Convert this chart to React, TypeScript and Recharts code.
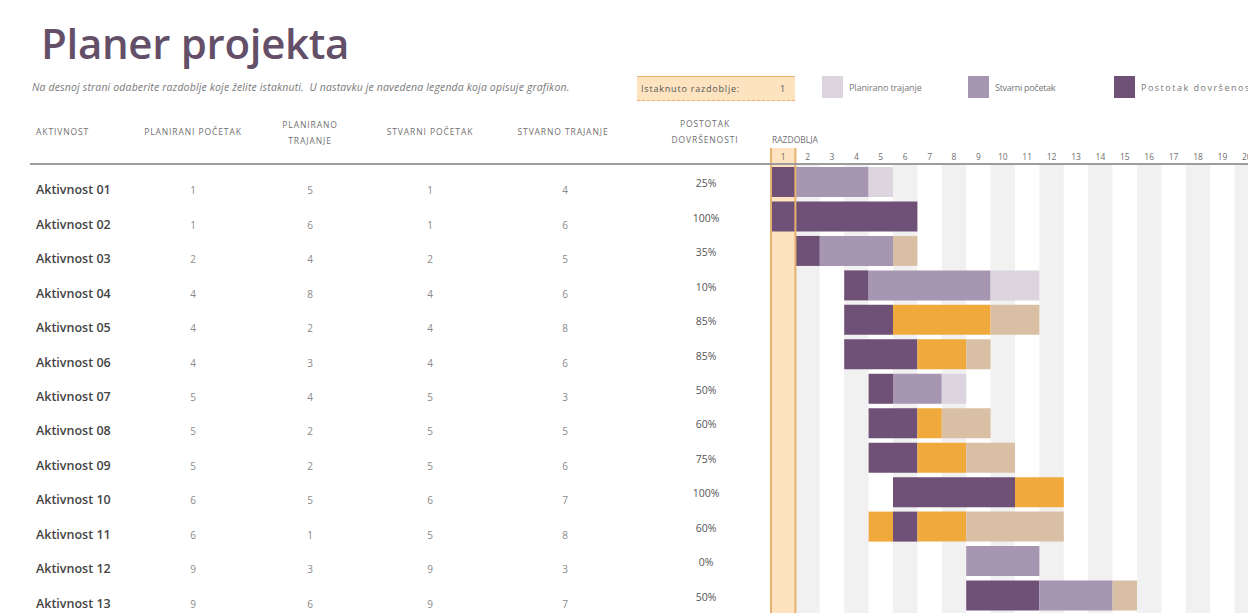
import React from "react"
import { BarChart, Bar, XAxis, YAxis, Cell, ReferenceArea, ReferenceLine } from "recharts"

// table columns
const activities = [
  "Aktivnost 01", "Aktivnost 02", "Aktivnost 03", "Aktivnost 04", "Aktivnost 05",
  "Aktivnost 06", "Aktivnost 07", "Aktivnost 08", "Aktivnost 09", "Aktivnost 10",
  "Aktivnost 11", "Aktivnost 12", "Aktivnost 13",
]
const plannedStart = [1, 1, 2, 4, 4, 4, 5, 5, 5, 6, 6, 9, 9]
const plannedDuration = [5, 6, 4, 8, 2, 3, 4, 2, 2, 5, 1, 3, 6]
const actualStart = [1, 1, 2, 4, 4, 4, 5, 5, 5, 6, 5, 9, 9]
const actualDuration = [4, 6, 5, 6, 8, 6, 3, 5, 6, 7, 8, 3, 7]
const percentComplete = [25, 100, 35, 10, 85, 85, 50, 60, 75, 100, 60, 0, 50]

// gantt, as drawn: first period of each bar and its coloured runs
// D = % complete, M = actual, L = planned, O = % complete beyond plan, T = actual beyond plan
type Kind = "D" | "M" | "L" | "O" | "T"
const ganttStart = [1, 1, 2, 4, 4, 4, 5, 5, 5, 6, 5, 9, 9]
const ganttRuns: [Kind, number][][] = [
  [["D", 1], ["M", 3], ["L", 1]],
  [["D", 6]],
  [["D", 1], ["M", 3], ["T", 1]],
  [["D", 1], ["M", 5], ["L", 2]],
  [["D", 2], ["O", 4], ["T", 2]],
  [["D", 3], ["O", 2], ["T", 1]],
  [["D", 1], ["M", 2], ["L", 1]],
  [["D", 2], ["O", 1], ["T", 2]],
  [["D", 2], ["O", 2], ["T", 2]],
  [["D", 5], ["O", 2]],
  [["O", 1], ["D", 1], ["O", 2], ["T", 4]],
  [["M", 3]],
  [["D", 3], ["M", 3], ["T", 1]],
]

const periods = [1, 2, 3, 4, 5, 6, 7, 8, 9, 10, 11, 12, 13, 14, 15, 16, 17, 18, 19, 20]
const highlightedPeriod = 1

const kindColor: Record<Kind, string> = {
  D: "#6f5076",
  M: "#a796b2",
  L: "#dcd5e0",
  O: "#f0aa3c",
  T: "#d9c0a5",
}
const HIGHLIGHT = "#fde3bf"
const HIGHLIGHT_EDGE = "#e6b273"
const FONT = "'Open Sans', sans-serif"

const MAX_RUNS = 4
const rows = activities.map((name, i) => {
  const row: any = { name, offset: ganttStart[i] - 1 }
  for (let k = 0; k < MAX_RUNS; k++) {
    const run = ganttRuns[i][k]
    row[`s${k}`] = run ? run[1] : 0
    row[`k${k}`] = run ? run[0] : "L"
  }
  return row
})

const COL_W = 24.4

function PeriodTick({ x, payload }: any) {
  const p = Math.round(payload.value + 0.5)
  return (
    <g>
      {p === highlightedPeriod && (
        <g>
          <rect x={x - COL_W / 2} y={148} width={COL_W} height={17} fill={HIGHLIGHT} />
          <line x1={x - COL_W / 2} x2={x - COL_W / 2} y1={148} y2={165} stroke={HIGHLIGHT_EDGE} strokeWidth={2} />
          <line x1={x + COL_W / 2} x2={x + COL_W / 2} y1={148} y2={165} stroke={HIGHLIGHT_EDGE} strokeWidth={2} />
        </g>
      )}
      <text x={x} y={160} textAnchor="middle" fontSize={8.5} fill="#6f6f6f" fontFamily={FONT}>
        {p}
      </text>
    </g>
  )
}

function RowTick({ y, payload }: any) {
  const i = activities.indexOf(payload.value)
  const num = { fontSize: 10, fill: "#8a8a8a", fontFamily: FONT, textAnchor: "middle" as const }
  return (
    <g>
      <text x={36} y={y + 12} fontSize={12.5} fontWeight={600} fill="#444" fontFamily={FONT}>
        {activities[i]}
      </text>
      <text x={193} y={y + 12} {...num}>{plannedStart[i]}</text>
      <text x={310} y={y + 12} {...num}>{plannedDuration[i]}</text>
      <text x={430} y={y + 12} {...num}>{actualStart[i]}</text>
      <text x={565} y={y + 12} {...num}>{actualDuration[i]}</text>
      <text x={706} y={y + 5} textAnchor="middle" fontSize={10.5} fill="#555" fontFamily={FONT}>
        {percentComplete[i]}%
      </text>
    </g>
  )
}

const headerStyle: React.CSSProperties = {
  position: "absolute",
  fontSize: 8.5,
  letterSpacing: 0.9,
  color: "#6f6f6f",
  textAlign: "center",
  lineHeight: "16px",
  transform: "translate(-50%, -50%)",
  whiteSpace: "nowrap",
}

const legend = [
  { label: "Planirano trajanje", color: kindColor.L, x: 822, spacing: -0.1 },
  { label: "Stvarni početak", color: kindColor.M, x: 968, spacing: -0.3 },
  { label: "Postotak dovršenosti", color: kindColor.D, x: 1114, spacing: 1.5 },
]

export default function App() {
  return (
    <div
      style={{
        position: "absolute",
        top: 0,
        left: 0,
        width: 1248,
        height: 616,
        overflow: "hidden",
        background: "#fff",
        fontFamily: FONT,
      }}
    >
      <div style={{ position: "absolute", left: 41, top: 14, fontSize: 42, fontWeight: 600, color: "#644f69", letterSpacing: -0.3 }}>
        Planer projekta
      </div>
      <div style={{ position: "absolute", left: 32, top: 80, fontSize: 10.5, fontStyle: "italic", color: "#7a7a7a", whiteSpace: "nowrap", letterSpacing: 0.15 }}>
        Na desnoj strani odaberite razdoblje koje želite istaknuti.&nbsp; U nastavku je navedena legenda koja opisuje grafikon.
      </div>

      <div
        style={{
          position: "absolute",
          left: 637,
          top: 76,
          width: 158,
          height: 25,
          background: HIGHLIGHT,
          borderTop: `1px solid ${HIGHLIGHT_EDGE}`,
          borderBottom: `1px dashed ${HIGHLIGHT_EDGE}`,
          fontSize: 9,
          letterSpacing: 0.8,
          color: "#555",
          display: "flex",
          alignItems: "center",
          justifyContent: "space-between",
          padding: "0 9px 0 4px",
          boxSizing: "border-box",
        }}
      >
        <span>Istaknuto razdoblje:</span>
        <span>{highlightedPeriod}</span>
      </div>

      {legend.map((l) => (
        <div key={l.label} style={{ position: "absolute", left: l.x, top: 76, display: "flex", alignItems: "center", whiteSpace: "nowrap" }}>
          <div style={{ width: 21, height: 22, background: l.color, marginRight: 6 }} />
          <span style={{ fontSize: 9, color: "#777", letterSpacing: l.spacing }}>{l.label}</span>
        </div>
      ))}

      <div style={{ ...headerStyle, left: 36, top: 132, transform: "translate(0, -50%)" }}>AKTIVNOST</div>
      <div style={{ ...headerStyle, left: 193, top: 132 }}>PLANIRANI POČETAK</div>
      <div style={{ ...headerStyle, left: 310, top: 133 }}>PLANIRANO<br />TRAJANJE</div>
      <div style={{ ...headerStyle, left: 430, top: 132 }}>STVARNI POČETAK</div>
      <div style={{ ...headerStyle, left: 563, top: 132 }}>STVARNO TRAJANJE</div>
      <div style={{ ...headerStyle, left: 705, top: 132 }}>POSTOTAK<br />DOVRŠENOSTI</div>
      <div style={{ ...headerStyle, left: 772, top: 140, transform: "translate(0, -50%)", letterSpacing: 0 }}>RAZDOBLJA</div>

      <BarChart
        width={1259}
        height={616}
        data={rows}
        layout="vertical"
        margin={{ top: 135, right: 0, left: 0, bottom: 3 }}
        barSize={30}
        style={{ position: "absolute", left: 0, top: 0 }}
      >
        <XAxis
          type="number"
          domain={[0, 20]}
          ticks={periods.map((p) => p - 0.5)}
          interval={0}
          orientation="top"
          height={30}
          axisLine={false}
          tickLine={false}
          tick={<PeriodTick />}
          allowDataOverflow
        />
        <YAxis
          type="category"
          dataKey="name"
          width={771}
          axisLine={false}
          tickLine={false}
          interval={0}
          tick={<RowTick />}
        />
        {periods
          .filter((p) => p % 2 === 0)
          .map((p) => (
            <ReferenceArea key={`col-${p}`} x1={p - 1} x2={p} fill="#f1f1f1" fillOpacity={1} stroke="none" />
          ))}
        <ReferenceArea x1={highlightedPeriod - 1} x2={highlightedPeriod} fill={HIGHLIGHT} fillOpacity={1} stroke="none" />
        <Bar dataKey="offset" stackId="g" fill="transparent" isAnimationActive={false} />
        {[0, 1, 2, 3].map((k) => (
          <Bar key={k} dataKey={`s${k}`} stackId="g" isAnimationActive={false}>
            {rows.map((r, i) => (
              <Cell key={i} fill={kindColor[r[`k${k}`] as Kind]} />
            ))}
          </Bar>
        ))}
        <ReferenceLine x={highlightedPeriod - 1} stroke={HIGHLIGHT_EDGE} strokeWidth={2} />
        <ReferenceLine x={highlightedPeriod} stroke={HIGHLIGHT_EDGE} strokeWidth={2} />
      </BarChart>

      <div style={{ position: "absolute", left: 30, top: 163, width: 1218, height: 2, background: "#9d9d9d" }} />
    </div>
  )
}
